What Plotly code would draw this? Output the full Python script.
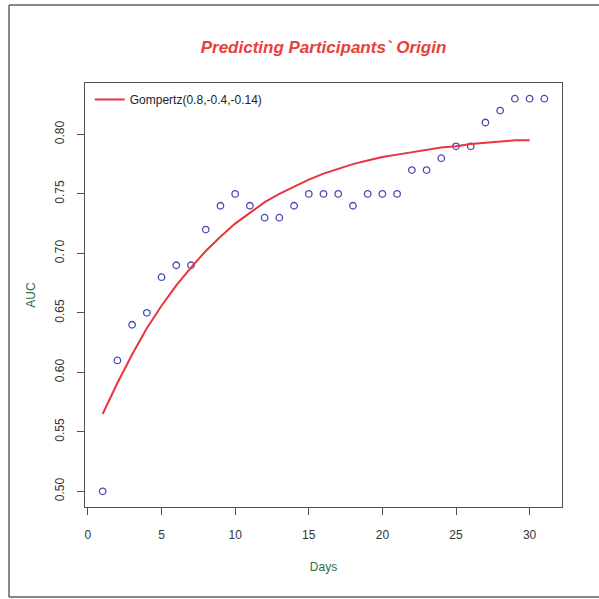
import plotly.graph_objects as go

days = list(range(1, 32))
auc = [0.50, 0.61, 0.64, 0.65, 0.68, 0.69, 0.69, 0.72, 0.74, 0.75,
       0.74, 0.73, 0.73, 0.74, 0.75, 0.75, 0.75, 0.74, 0.75, 0.75,
       0.75, 0.77, 0.77, 0.78, 0.79, 0.79, 0.81, 0.82, 0.83, 0.83, 0.83]

fit_days = list(range(1, 31))
fit_auc = [0.565, 0.591, 0.615, 0.637, 0.656, 0.673, 0.688, 0.702, 0.714, 0.725,
           0.734, 0.743, 0.750, 0.756, 0.762, 0.767, 0.771, 0.775, 0.778, 0.781,
           0.783, 0.785, 0.787, 0.789, 0.790, 0.792, 0.793, 0.794, 0.795, 0.795]

x_ticks = [0, 5, 10, 15, 20, 25, 30]
y_ticks = [0.50, 0.55, 0.60, 0.65, 0.70, 0.75, 0.80]
y_labels = ["0.50", "0.55", "0.60", "0.65", "0.70", "0.75", "0.80"]

title_text = "Predicting Participants` Origin"
legend_text = "Gompertz(0.8,-0.4,-0.14)"

fig = go.Figure()
fig.add_trace(go.Scatter(
    x=days, y=auc, mode="markers", showlegend=False,
    marker=dict(symbol="circle-open", size=6.5, color="#4a4ab4", line=dict(width=1.3)),
))
fig.add_trace(go.Scatter(
    x=fit_days, y=fit_auc, mode="lines", name=legend_text,
    line=dict(color="#e8343c", width=2),
))

axis_common = dict(
    showline=True, mirror=True, linecolor="#505050", linewidth=1.2,
    ticks="outside", ticklen=7, tickcolor="#505050", tickwidth=1,
    showgrid=False, zeroline=False,
    tickfont=dict(family="Arial, Liberation Sans", size=12, color="#333333"),
)

fig.update_layout(
    width=599, height=599,
    paper_bgcolor="white", plot_bgcolor="white",
    margin=dict(l=85, r=37, t=83, b=92),
    title=dict(
        text="<b><i>" + title_text + "</i></b>",
        x=(85 + 562) / 2 / 599, xanchor="center", y=1 - 47 / 599, yanchor="middle",
        font=dict(family="Arial, Liberation Sans", size=17, color="#e8403a"),
    ),
    xaxis=dict(range=[-0.2, 32.2], tickvals=x_ticks, ticklabelstandoff=9,
               title=dict(text="Days", standoff=22,
                          font=dict(family="Arial, Liberation Sans", size=12, color="#2f6a4c")),
               **axis_common),
    yaxis=dict(range=[0.4868, 0.8432], tickvals=y_ticks, ticktext=y_labels, tickangle=-90,
               ticklabelstandoff=8,
               title=dict(text="AUC", standoff=14,
                          font=dict(family="Arial, Liberation Sans", size=12, color="#2f6a4c")),
               **axis_common),
    legend=dict(
        x=0.01, y=0.995, xanchor="left", yanchor="top",
        bgcolor="rgba(0,0,0,0)", borderwidth=0,
        font=dict(family="Arial, Liberation Sans", size=12, color="#222222"),
    ),
    shapes=[
        dict(type="line", xref="paper", yref="paper",
             x0=-76 / 477, x1=1 + 37 / 477, y0=1 + 78 / 424, y1=1 + 78 / 424,
             line=dict(color="#606060", width=1.5)),
        dict(type="line", xref="paper", yref="paper",
             x0=-76 / 477, x1=-76 / 477, y0=1 + 78 / 424, y1=-90 / 424,
             line=dict(color="#606060", width=1.5)),
        dict(type="line", xref="paper", yref="paper",
             x0=-76 / 477, x1=1 + 37 / 477, y0=-90 / 424, y1=-90 / 424,
             line=dict(color="#606060", width=1.5)),
    ],
)

fig.write_html("out.html")
